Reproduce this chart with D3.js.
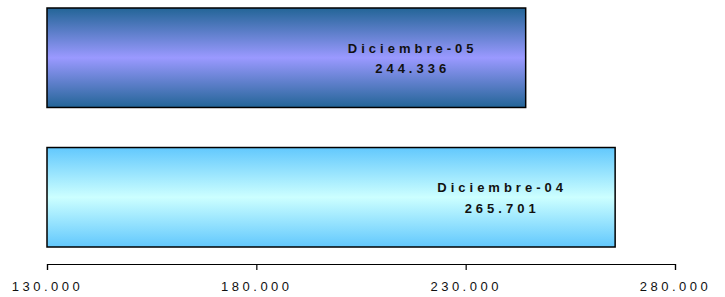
<!DOCTYPE html>
<html lang="es">
<head>
  <meta charset="utf-8" />
  <title>Diciembre-04 / Diciembre-05</title>
  <style>
    body { margin: 0; background: #fff; }
    svg { display: block; font-family: Arial, "Liberation Sans", sans-serif; }
    .etiqueta { font-size: 13px; font-weight: bold; letter-spacing: 4px; fill: #111; }
    .eje text { font-size: 13px; letter-spacing: 3.5px; fill: #111; }
  </style>
</head>
<body>
<div id="chart"></div>

<script src="https://d3js.org/d3.v7.min.js"></script>
<script>
  // datos
  const categorias = ["Diciembre-05", "Diciembre-04"];
  const valores = [244336, 265701];
  const ticks = [130000, 180000, 230000, 280000];

  const width = 725, height = 297;
  const es = d3.formatLocale({ decimal: ",", thousands: ".", grouping: [3], currency: ["", ""] });
  const fmt = es.format(",.0f");

  const svg = d3.select("#chart").append("svg")
    .attr("width", width)
    .attr("height", height);

  const x = d3.scaleLinear().domain([130000, 280000]).range([47, 675]);
  const y = d3.scaleBand().domain(categorias).range([8, 247]).paddingInner(0.287).paddingOuter(0);

  // degradados verticales (oscuro-claro-oscuro)
  const colores = [
    ["#236597", "#9a99ff"],
    ["#62c8fd", "#ccffff"]
  ];
  const defs = svg.append("defs");
  colores.forEach(([borde, centro], i) => {
    const g = defs.append("linearGradient")
      .attr("id", "grad" + i)
      .attr("x1", 0).attr("y1", 0).attr("x2", 0).attr("y2", 1);
    g.append("stop").attr("offset", "0%").attr("stop-color", borde);
    g.append("stop").attr("offset", "50%").attr("stop-color", centro);
    g.append("stop").attr("offset", "100%").attr("stop-color", borde);
  });

  svg.selectAll("rect.barra")
    .data(valores)
    .enter().append("rect")
    .attr("class", "barra")
    .attr("x", x(130000))
    .attr("y", (d, i) => y(categorias[i]))
    .attr("width", d => x(d) - x(130000))
    .attr("height", y.bandwidth())
    .attr("fill", (d, i) => `url(#grad${i})`)
    .attr("stroke", "#000")
    .attr("stroke-width", 1.5);

  // etiquetas dentro de las barras
  const cx = d => x(d) - 113;
  const etiquetas = svg.selectAll("text.etiqueta")
    .data(valores)
    .enter().append("text")
    .attr("class", "etiqueta")
    .attr("text-anchor", "middle")
    .attr("x", cx)
    .attr("y", (d, i) => y(categorias[i]) + y.bandwidth() / 2);

  etiquetas.append("tspan")
    .attr("x", cx)
    .attr("dy", -5)
    .text((d, i) => categorias[i]);
  etiquetas.append("tspan")
    .attr("x", cx)
    .attr("dy", 20.5)
    .text(d => fmt(d));

  // eje
  const eje = svg.append("g")
    .attr("class", "eje")
    .attr("transform", "translate(0,264)")
    .call(d3.axisBottom(x).tickValues(ticks).tickFormat(fmt).tickSize(6).tickPadding(10));

  eje.selectAll("path, line").attr("stroke", "#000").attr("stroke-width", 1.2);
  eje.selectAll("text").attr("font-size", 13).attr("dy", null).attr("y", 27);
</script>
</body>
</html>
